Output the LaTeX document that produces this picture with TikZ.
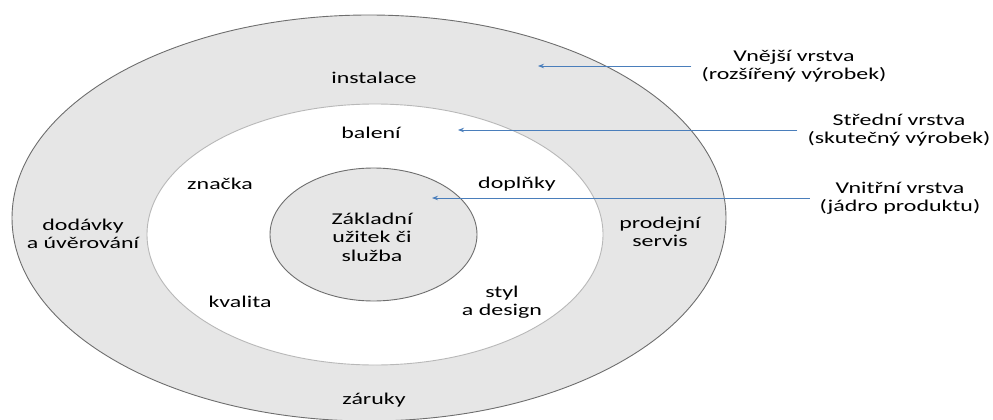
\documentclass[tikz,border=0pt]{standalone}
\usepackage{fontspec}
\setmainfont{Carlito}[FakeStretch=1.45]
\usetikzlibrary{arrows.meta}
\definecolor{ringgray}{HTML}{E6E6E6}
\definecolor{rimgray}{HTML}{6E6E6E}
\definecolor{midrim}{HTML}{B8B8B8}
\definecolor{arrowblue}{HTML}{4A7EBB}

\begin{document}
\begin{tikzpicture}[x=1pt,y=-1pt,
  lbl/.style={align=center,font=\fontsize{16.5}{18.5}\selectfont,text=black,inner sep=0pt},
  layer/.style={lbl,inner xsep=10pt},
  pointer/.style={draw=arrowblue,line width=0.8pt,-{Stealth[length=6pt,width=4.5pt]}}]
\useasboundingbox (0,0) rectangle (993,420);
% the three layers
\draw[fill=ringgray,draw=rimgray,line width=0.9pt] (369,218) ellipse [x radius=357,y radius=203];
\draw[fill=white,draw=midrim,line width=0.9pt] (375,234.5) ellipse [x radius=228,y radius=130.5];
\draw[fill=ringgray,draw=rimgray,line width=0.9pt] (373.5,234.5) ellipse [x radius=103.5,y radius=66.5];

% outer ring
\node[lbl] (instalace) at (374,78) {instalace};
\node[lbl] (dodavky) at (83,234) {dodávky\\a úvěrování};
\node[lbl] (servis) at (660,232) {prodejní\\servis};
\node[lbl] (zaruky) at (374,400) {záruky};

% middle ring
\node[lbl] (baleni) at (371,133) {balení};
\node[lbl] (znacka) at (220,184) {značka};
\node[lbl] (doplnky) at (517,184) {doplňky};
\node[lbl] (kvalita) at (240,302) {kvalita};
\node[lbl] (styl) at (502,302) {styl\\a design};

% core
\node[lbl] (jadro) at (372,237) {Základní\\užitek či\\služba};

% layer names and pointers
\node[layer] (vnejsi) at (794,66) {Vnější vrstva\\(rozšířený výrobek)};
\node[layer] (stredni) at (899,130) {Střední vrstva\\(skutečný výrobek)};
\node[layer] (vnitrni) at (900,198) {Vnitřní vrstva\\(jádro produktu)};
\coordinate (vnejsiTip) at (538,66);
\coordinate (stredniTip) at (458,130);
\coordinate (vnitrniTip) at (432,198);
\draw[pointer] (vnejsi.west) -- (vnejsiTip);
\draw[pointer] (stredni.west) -- (stredniTip);
\draw[pointer] (vnitrni.west) -- (vnitrniTip);
\end{tikzpicture}
\end{document}
